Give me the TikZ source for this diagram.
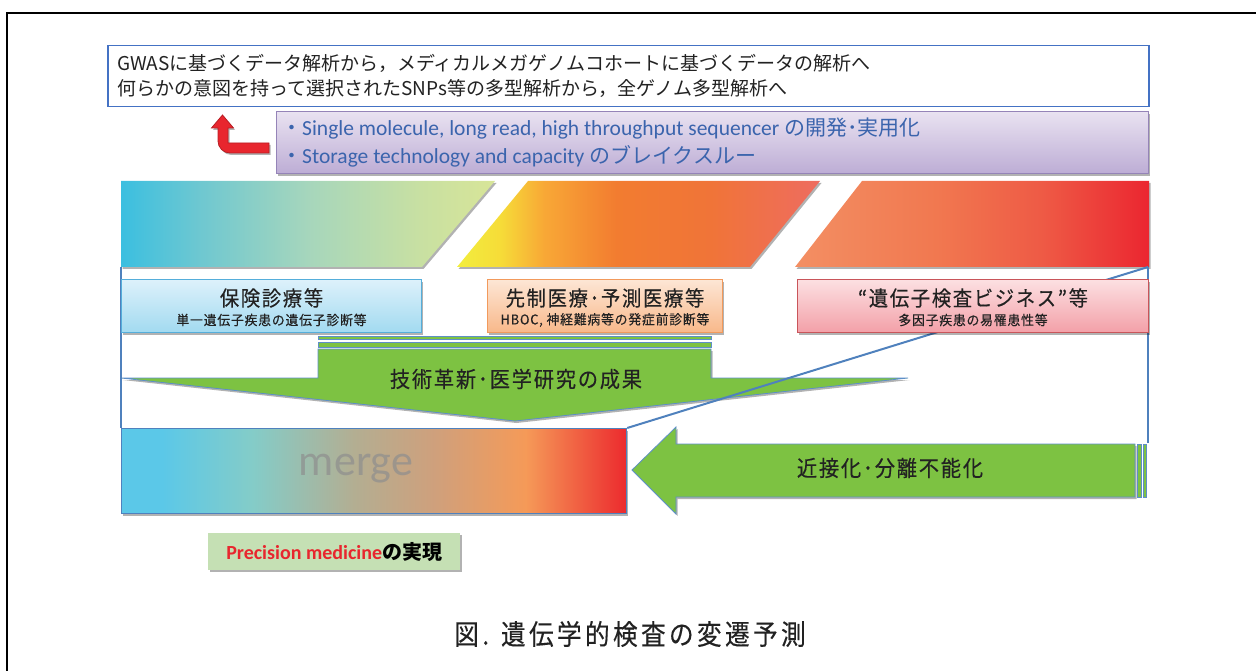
\documentclass[tikz,border=0pt]{standalone}
\usepackage{fontspec}
\setmainfont{Noto Sans CJK JP}
\newfontfamily\lat{Carlito}
\newfontfamily\titf[FakeStretch=0.92,LetterSpace=8,FakeBold=0.3]{Noto Sans CJK JP}
\newfontfamily\subf[FakeStretch=0.95,LetterSpace=6,FakeBold=0.3]{Noto Sans CJK JP}
\newfontfamily\capf[FakeStretch=0.88,LetterSpace=12,FakeBold=0.3]{Noto Sans CJK JP}
\usetikzlibrary{shadows}
\definecolor{txt}{HTML}{222222}
\definecolor{topblue}{HTML}{4472C4}
\definecolor{techblue}{HTML}{3B64AD}
\definecolor{pur1}{HTML}{E9E2F1}
\definecolor{pur2}{HTML}{BDADD5}
\definecolor{purb}{HTML}{9584B8}
\definecolor{arrred}{HTML}{E8262E}
\definecolor{arrredd}{HTML}{B81E24}
\definecolor{outblue}{HTML}{4F81BD}
\definecolor{grn}{HTML}{7DC242}
\definecolor{grnb}{HTML}{5E8FC8}
\definecolor{lb1}{HTML}{DDF1FB}\definecolor{lb2}{HTML}{A2DAF0}\definecolor{lbb}{HTML}{55AEDB}
\definecolor{lo1}{HTML}{FDE6D5}\definecolor{lo2}{HTML}{F8B88A}\definecolor{lob}{HTML}{F29A5C}
\definecolor{lp1}{HTML}{FCE0E2}\definecolor{lp2}{HTML}{F3A0A8}\definecolor{lpb}{HTML}{C9555A}
\definecolor{pmgreen}{HTML}{C5E0B4}
\definecolor{pmred}{HTML}{E8262E}
\definecolor{mergegray}{HTML}{8E8E8E}
% gradient stops
\definecolor{pa1}{HTML}{3BBFE0}\definecolor{pa2}{HTML}{70C8D0}\definecolor{pa3}{HTML}{A6D6BC}\definecolor{pa4}{HTML}{C8E0A2}\definecolor{pa5}{HTML}{D8E598}
\definecolor{pb1}{HTML}{F2EE3E}\definecolor{pb2}{HTML}{F6DC38}\definecolor{pb3}{HTML}{F8A836}\definecolor{pb4}{HTML}{F27C30}\definecolor{pb5}{HTML}{F07438}\definecolor{pb6}{HTML}{EE6C60}
\definecolor{pc1}{HTML}{F38F63}\definecolor{pc2}{HTML}{F17850}\definecolor{pc3}{HTML}{EE5A45}\definecolor{pc4}{HTML}{EB2630}
\definecolor{m1}{HTML}{5BC8E8}\definecolor{m2}{HTML}{84CCC8}\definecolor{m3}{HTML}{B3AE92}\definecolor{m4}{HTML}{CFA07C}\definecolor{m5}{HTML}{F59A58}\definecolor{m6}{HTML}{EC2A2E}
\pgfdeclarehorizontalshading{parA}{100bp}{color(0bp)=(pa1); color(25bp)=(pa1); color(36bp)=(pa2); color(50bp)=(pa3); color(65bp)=(pa4); color(75bp)=(pa5); color(100bp)=(pa5)}
\pgfdeclarehorizontalshading{parB}{100bp}{color(0bp)=(pb1); color(25bp)=(pb1); color(31bp)=(pb2); color(37bp)=(pb3); color(47bp)=(pb4); color(60bp)=(pb5); color(75bp)=(pb6); color(100bp)=(pb6)}
\pgfdeclarehorizontalshading{parC}{100bp}{color(0bp)=(pc1); color(25bp)=(pc1); color(45bp)=(pc2); color(60bp)=(pc3); color(75bp)=(pc4); color(100bp)=(pc4)}
\pgfdeclarehorizontalshading{mergeS}{100bp}{color(0bp)=(m1); color(25bp)=(m1); color(29bp)=(m1); color(38bp)=(m2); color(48bp)=(m3); color(56bp)=(m4); color(65bp)=(m5); color(75bp)=(m6); color(100bp)=(m6)}
\tikzset{
  mysh/.style={drop shadow={shadow xshift=1.5pt,shadow yshift=-2pt,opacity=0.3,fill=black}},
  labelbox/.style={inner sep=0pt, line width=1pt, anchor=north west, minimum height=53pt, mysh},
  titletext/.style={text=txt, font=\titf\fontsize{21}{24}\selectfont},
  subtext/.style={text=txt, font=\subf\fontsize{13.5}{15}\selectfont},
  greenarrow/.style={fill=grn, draw=grnb, line width=0.8pt},
  outline/.style={draw=outblue, line width=2pt},
  techline/.style={anchor=west, text=techblue, font=\fontsize{21}{24}\selectfont, inner sep=0pt},
  topline/.style={anchor=west, text=txt, font=\fontsize{19}{22}\selectfont, inner sep=0pt},
}
\begin{document}
\begin{tikzpicture}[x=1pt,y=-1pt]
\useasboundingbox (0,0) rectangle (1256,671);
% outer frame
\draw[black, line width=1.2pt] (7,671) -- (7,13) -- (1256,13);

% top box
\node[draw=topblue, line width=1.5pt, fill=white, minimum width=1041pt, minimum height=61pt, anchor=north west, inner sep=0pt] (topbox) at (107,45) {};
\node[topline] (t1) at (117,63) {GWASに基づくデータ解析から，メディカルメガゲノムコホートに基づくデータの解析へ};
\node[topline] (t2) at (117,88) {何らかの意図を持って選択されたSNPs等の多型解析から，全ゲノム多型解析へ};

% tech box
\node[draw=purb, line width=1.2pt, top color=pur1, bottom color=pur2, minimum width=872pt, minimum height=62pt, anchor=north west, inner sep=0pt, mysh] (tech) at (276,111) {};
\node[techline] (k1) at (281,129) {・{\lat\fontsize{21.5}{24}\selectfont Single molecule, long read, high throughput sequencer} の開発･実用化};
\node[techline] (k2) at (281,156) {・{\lat\fontsize{21.5}{24}\selectfont Storage technology and capacity} のブレイクスルー};

% red U-turn arrow
\draw[fill=arrred, draw=arrredd, line width=0.8pt, mysh] (269,143) -- (228,143) -- (228,128) -- (233.5,128) -- (222.5,115) -- (211.5,128) -- (218,128) -- (218,141) to[out=-90,in=180] (230,153) -- (269,153) -- cycle;

% parallelograms
\shade[shading=parA, mysh] (121,181) -- (495,181) -- (422,267) -- (121,267) -- cycle;
\shade[shading=parB, mysh] (528,181) -- (820,181) -- (750,267) -- (457,267) -- cycle;
\shade[shading=parC, mysh] (862,181) -- (1149,181) -- (1149,267) -- (795,267) -- cycle;

% green arrow down
\draw[greenarrow, mysh] (318,349) -- (711,349) -- (711,378) -- (908,378) -- (515,421) -- (121,378) -- (318,378) -- cycle;
\draw[greenarrow] (318,336) rectangle (711,339.5);
\draw[greenarrow] (318,342) rectangle (711,347);
\node[text=txt, font=\titf\fontsize{22}{24}\selectfont] (gtext) at (516,379) {技術革新･医学研究の成果};

% green arrow left
\draw[greenarrow, mysh] (632,470) -- (676,427) -- (676,444) -- (1135,444) -- (1135,497) -- (676,497) -- (676,514) -- cycle;
\draw[greenarrow] (1137.5,444) rectangle (1141,497);
\draw[greenarrow] (1143,444) rectangle (1146,497);
\node[text=txt, font=\titf\fontsize{22}{24}\selectfont] (rtext) at (890,468) {近接化･分離不能化};

% merge box
\node[shading=mergeS, draw=outblue, line width=1.2pt, minimum width=505pt, minimum height=85pt, anchor=north west, inner sep=0pt, mysh] (merge) at (121,428) {};
\node[text=mergegray, opacity=0.7, font=\lat\fontsize{44}{48}\selectfont] (mtext) at (356,469) {merge};

% blue outline of the funnel
\coordinate (fl) at (121,267);
\coordinate (fr) at (1148,267);
\coordinate (frb) at (1148,443);
\draw[outline] (fl) -- (merge.north west);
\draw[outline] (fr) -- (frb);
\draw[outline] (merge.north east) -- (fr);

% label boxes
\node[labelbox, draw=lbb, top color=lb1, bottom color=lb2, minimum width=300pt] (lb) at (121,279) {};
\node[titletext] at ([yshift=-19pt]lb.north) {保険診療等};
\node[subtext] at ([yshift=-41pt]lb.north) {単一遺伝子疾患の遺伝子診断等};

\node[labelbox, draw=lob, top color=lo1, bottom color=lo2, minimum width=235pt] (lo) at (487,279) {};
\node[titletext] at ([yshift=-19pt]lo.north) {先制医療･予測医療等};
\node[subtext] at ([yshift=-41pt]lo.north) {HBOC, 神経難病等の発症前診断等};

\node[labelbox, draw=lpb, top color=lp1, bottom color=lp2, minimum width=351pt] (lp) at (797,279) {};
\node[titletext] at ([yshift=-19pt]lp.north) {“遺伝子検査ビジネス”等};
\node[subtext] at ([yshift=-41pt]lp.north) {多因子疾患の易罹患性等};

% precision medicine
\node[fill=pmgreen, minimum width=252pt, minimum height=37pt, anchor=north west, inner sep=0pt, mysh] (pm) at (208,533) {};
\node[font=\fontsize{20}{22}\selectfont] (pmt) at (pm.center) {{\lat\bfseries\color{pmred}Precision medicine}{\bfseries の実現}};

% caption
\node[text=txt, font=\capf\fontsize{28}{30}\selectfont] (cap) at (630,634) {図. 遺伝学的検査の変遷予測};
\end{tikzpicture}
\end{document}
